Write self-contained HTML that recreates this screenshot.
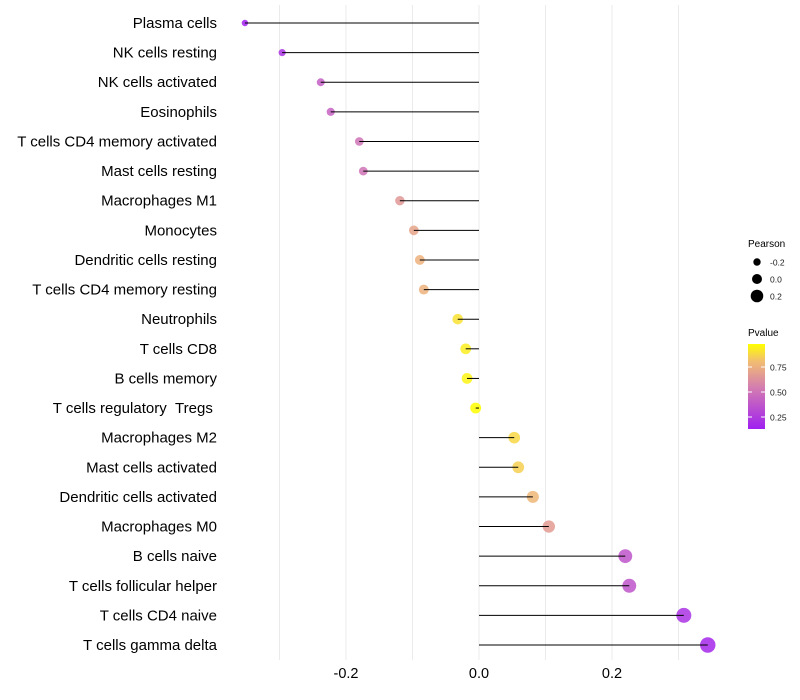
<!DOCTYPE html>
<html><head><meta charset="utf-8">
<style>
body{margin:0;background:#fff;}
svg{display:block;font-family:"Liberation Sans",sans-serif;}
</style></head>
<body>
<svg id="chart" width="800" height="700">
<g id="grid"></g>
<g id="marks"></g>
<g id="ylabels"></g>
<g id="xlabels"></g>
<g id="legend">
<text x="748" y="247" font-size="10" fill="#000">Pearson</text>
<text x="748" y="336" font-size="10" fill="#000">Pvalue</text>
<defs><linearGradient id="pg" x1="0" y1="1" x2="0" y2="0">
<stop offset="0" stop-color="#A020F0"/><stop offset="0.5" stop-color="#D57FAE"/><stop offset="0.8" stop-color="#F2BE70"/><stop offset="1" stop-color="#FFFF00"/></linearGradient></defs>
<rect x="748" y="344" width="17" height="85" fill="url(#pg)"/>
</g>
</svg>
<script>
const categories=["Plasma cells","NK cells resting","NK cells activated","Eosinophils","T cells CD4 memory activated","Mast cells resting","Macrophages M1","Monocytes","Dendritic cells resting","T cells CD4 memory resting","Neutrophils","T cells CD8","B cells memory","T cells regulatory\u00a0\u00a0Tregs\u00a0","Macrophages M2","Mast cells activated","Dendritic cells activated","Macrophages M0","B cells naive","T cells follicular helper","T cells CD4 naive","T cells gamma delta"];
const pearson=[-0.352,-0.296,-0.238,-0.223,-0.180,-0.174,-0.119,-0.098,-0.089,-0.083,-0.032,-0.020,-0.018,-0.005,0.053,0.059,0.081,0.105,0.220,0.226,0.308,0.344];
const pvalue=[0.12,0.2,0.4,0.42,0.5,0.5,0.65,0.7,0.75,0.75,0.9,0.93,0.95,0.98,0.87,0.85,0.77,0.66,0.36,0.36,0.2,0.15];
const xTicks=[-0.2,0.0,0.2];
const xTickLabels=["-0.2","0.0","0.2"];
const gridVals=[-0.3,-0.2,-0.1,0.0,0.1,0.2,0.3];
const sizeLegend=[-0.2,0.0,0.2];
const sizeLegendLabels=["-0.2","0.0","0.2"];
const colorTicks=[0.75,0.50,0.25];
const colorTickLabels=["0.75","0.50","0.25"];
const NS="http://www.w3.org/2000/svg";
const X=v=>479+v*665;
const Y=i=>23+i*(622/21);
const R=v=>5.5+v*6.5;
const CY=p=>345+(0.97-p)/0.25*25;
function lerp(a,b,t){return a.map((x,i)=>Math.round(x+(b[i]-x)*t));}
function col(p){const s=[[0.12,[160,32,240]],[0.55,[213,127,174]],[0.8,[242,190,112]],[0.98,[255,255,0]]];
 if(p<=s[0][0])return "rgb("+s[0][1]+")";
 for(let i=1;i<s.length;i++){if(p<=s[i][0]){const t=(p-s[i-1][0])/(s[i][0]-s[i-1][0]);return "rgb("+lerp(s[i-1][1],s[i][1],t)+")";}}
 return "rgb(255,255,0)";}
function mk(tag,attrs,parent){const e=document.createElementNS(NS,tag);for(const k in attrs)e.setAttribute(k,attrs[k]);parent.appendChild(e);return e;}
const grid=document.getElementById('grid'),marks=document.getElementById('marks'),yl=document.getElementById('ylabels'),xl=document.getElementById('xlabels'),lg=document.getElementById('legend');
gridVals.forEach(v=>{const l=mk('line',{x1:X(v),x2:X(v),y1:5,y2:660,stroke:'#ebebeb','stroke-width':1},grid);

});
categories.forEach((c,i)=>{
 const y=Y(i);
 const dot=mk('circle',{cx:X(pearson[i]),cy:y,r:R(pearson[i]),fill:col(pvalue[i]),'fill-opacity':0.85},marks);
 
 
 const ln=mk('line',{x1:X(0),x2:X(pearson[i]),y1:y,y2:y,stroke:'#000','stroke-width':1},marks);
 
 
 const t=mk('text',{x:217,y:y+5,'text-anchor':'end','font-size':15,fill:'#000'},yl);
 t.textContent=c;
 
 
});
xTicks.forEach((v,i)=>{const t=mk('text',{x:X(v),y:678,'text-anchor':'middle','font-size':14.5,fill:'#000'},xl);
t.textContent=xTickLabels[i];

});
sizeLegend.forEach((v,i)=>{const y=262+i*17;
const c=mk('circle',{cx:757,cy:y,r:R(v)-0.5,fill:'#000'},lg);


const t=mk('text',{x:770,y:y+3.5,'font-size':8.5,fill:'#1a1a1a'},lg);
t.textContent=sizeLegendLabels[i];

});
colorTicks.forEach((v,i)=>{const y=CY(v);
mk('line',{x1:748,x2:752,y1:y,y2:y,stroke:'#fff'},lg);
mk('line',{x1:761,x2:765,y1:y,y2:y,stroke:'#fff'},lg);
const t=mk('text',{x:770,y:y+3.5,'font-size':8.5,fill:'#1a1a1a'},lg);
t.textContent=colorTickLabels[i];

});
</script>
</body></html>
